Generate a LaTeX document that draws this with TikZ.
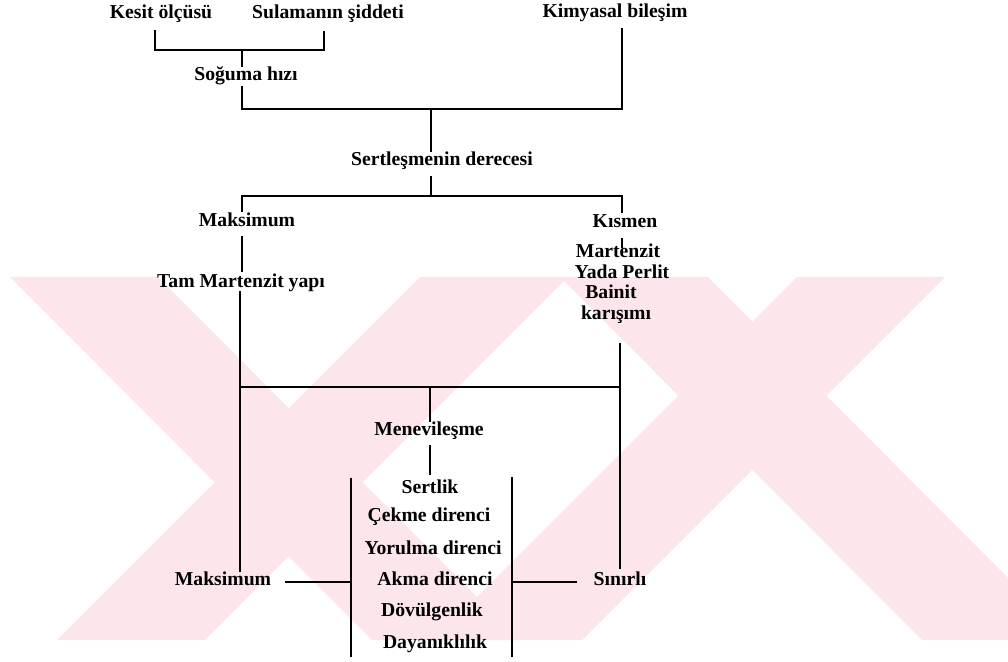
\documentclass[tikz,border=0pt]{standalone}
\usepackage{fontspec}
\setmainfont{Liberation Serif}
\usetikzlibrary{calc}
\definecolor{wmpink}{RGB}{252,229,235}

\begin{document}
\begin{tikzpicture}[x=0.025cm,y=-0.025cm,line width=1.1pt]
\tikzstyle{every node}+=[inner sep=0pt]
\tikzset{lbl/.style={font=\fontsize{14}{16}\selectfont\bfseries,text height=1.6ex,text depth=0.4ex}}
\useasboundingbox (0,0) rectangle (1008,662);
% watermark in the background
\begin{scope}
\clip (0,277) rectangle (1008,640);
\fill [wmpink] (10,277) -- (158,277) -- (520,640) -- (372,640) -- cycle;
\fill [wmpink] (420,277) -- (568,277) -- (205,640) -- (57,640) -- cycle;
\fill [wmpink] (560,277) -- (708,277) -- (1070,640) -- (922,640) -- cycle;
\fill [wmpink] (797,277) -- (945,277) -- (582,640) -- (434,640) -- cycle;
\end{scope}
% labels
\node [lbl] (kesit) at (161,15) {Kesit ölçüsü};
\node [lbl] (sulama) at (328,15) {Sulamanın şiddeti};
\node [lbl] (kimya) at (615,14) {Kimyasal bileşim};
\node [lbl] (soguma) at (246,77) {Soğuma hızı};
\node [lbl] (sertles) at (442,162) {Sertleşmenin derecesi};
\node [lbl] (maksA) at (247,223) {Maksimum};
\node [lbl] (kismen) at (625,224) {Kısmen};
\node [lbl] (tam) at (241,284) {Tam Martenzit yapı};
\node [lbl] (mart) at (618,254) {Martenzit};
\node [lbl] (perlit) at (622,275) {Yada Perlit};
\node [lbl] (bainit) at (611,295) {Bainit};
\node [lbl] (karisim) at (616,316) {karışımı};
\node [lbl] (menev) at (429,432) {Menevileşme};
\node [lbl] (sertlik) at (430,490) {Sertlik};
\node [lbl] (cekme) at (429,518) {Çekme direnci};
\node [lbl] (yorulma) at (433,551) {Yorulma direnci};
\node [lbl] (akma) at (435,582) {Akma direnci};
\node [lbl] (dovul) at (432,613) {Dövülgenlik};
\node [lbl] (dayan) at (435,645) {Dayanıklılık};
\node [lbl] (maksB) at (223,582) {Maksimum};
\node [lbl] (sinirli) at (620,582) {Sınırlı};
% junctions
\coordinate (j1) at (242,50);
\coordinate (j2) at (431,109);
\coordinate (j3) at (431,196);
\coordinate (jl) at (240,387);
\coordinate (jm) at (430,387);
\coordinate (jr) at (620,387);
\coordinate (bl1) at (351,478);
\coordinate (bl2) at (351,657);
\coordinate (br1) at (512,477);
\coordinate (br2) at (512,657);
% connectors
\draw ($(kesit.south)+(-6,8)$) |- (j1) -| ($(sulama.south)+(-4,9)$);
\draw (j1) -- ($(soguma.north)+(-4,-3)$);
\draw ($(soguma.south)+(-4,2)$) |- (j2) -| ($(kimya.south)+(7,7)$);
\draw (j2) -- ($(sertles.north)+(-11,-3)$);
\draw ($(sertles.south)+(-11,7)$) -- (j3);
\draw ($(maksA.north)+(-5,-4)$) |- (j3) -| ($(kismen.north)+(-3,-4)$);
\draw ($(maksA.south)+(-5,6)$) -- ($(tam.north)+(1,-5)$);
\draw ($(kismen.south)+(-3,7)$) -- ($(mart.north)+(4,1)$);
\draw ($(tam.south)+(-1,0)$) -- ($(maksB.north)+(17,-3)$);
\draw ($(karisim.south)+(4,20)$) -- ($(sinirli.north)+(0,-6)$);
\draw (jl) -- (jr);
\draw (jm) -- ($(menev.north)+(1,-3)$);
\draw ($(menev.south)+(1,6)$) -- ($(sertlik.north)+(0,-8)$);
\draw (bl1) -- (bl2);
\draw (br1) -- (br2);
\draw ($(maksB.east)+(13,0)$) -- (bl1 |- akma);
\draw (br1 |- akma) -- ($(sinirli.west)+(-16,0)$);
\end{tikzpicture}
\end{document}
